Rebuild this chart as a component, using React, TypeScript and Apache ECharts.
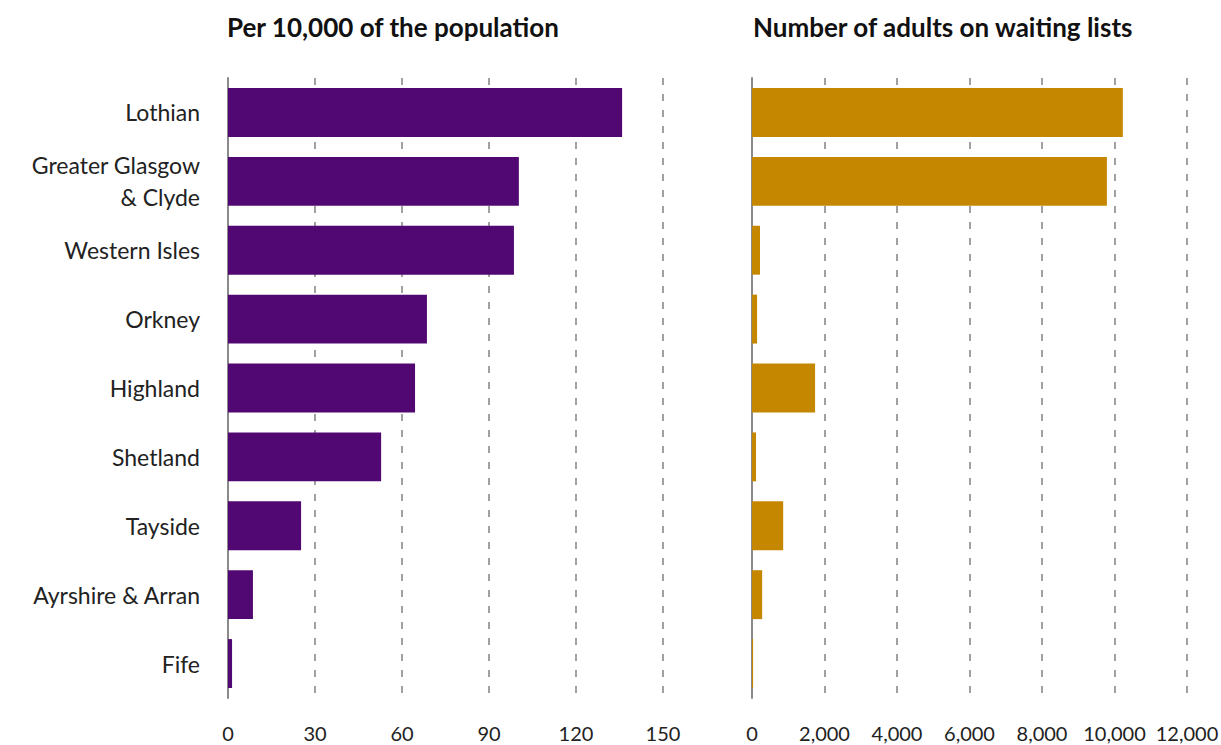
import React, { useEffect, useRef } from "react";
import * as echarts from "echarts";

const categories = [
  "Lothian",
  "Greater Glasgow\n& Clyde",
  "Western Isles",
  "Orkney",
  "Highland",
  "Shetland",
  "Tayside",
  "Ayrshire & Arran",
  "Fife",
];
const perPopulation = [135.9, 100.3, 98.6, 68.6, 64.5, 52.8, 25.2, 8.6, 1.4];
const adultsWaiting = [10230, 9790, 220, 140, 1740, 110, 860, 280, 30];
const leftTitle = "Per 10,000 of the population";
const rightTitle = "Number of adults on waiting lists";

const FONT = "Lato";

export default function App() {
  const ref = useRef<HTMLDivElement>(null);
  useEffect(() => {
    document.body.style.margin = "0";
    const chart = echarts.init(ref.current!, undefined, { renderer: "svg" });
    const splitLine = {
      show: true,
      lineStyle: { color: "#8a8a8a", width: 1.6, type: [7, 9] as any },
    };
    const axisLine = { show: true, lineStyle: { color: "#8a8a8a", width: 2 } };
    const xLabel = { color: "#222", fontSize: 20, fontFamily: FONT, margin: 25 };
    const titleStyle = { fontFamily: FONT, fontWeight: "bold", fontSize: 26, color: "#111" };
    chart.setOption({
      animation: false,
      title: [
        { text: leftTitle, left: 222, top: 9, textStyle: titleStyle },
        { text: rightTitle, left: 748, top: 9, textStyle: titleStyle },
      ],
      grid: [
        { left: 228, width: 435, top: 78, height: 620, containLabel: false, outerBoundsMode: "none" },
        { left: 752, width: 435, top: 78, height: 620, containLabel: false, outerBoundsMode: "none" },
      ],
      xAxis: [
        {
          gridIndex: 0,
          type: "value",
          min: 0,
          max: 150,
          interval: 30,
          axisLine: { show: false },
          axisTick: { show: false },
          splitLine,
          axisLabel: xLabel,
        },
        {
          gridIndex: 1,
          type: "value",
          min: 0,
          max: 12000,
          interval: 2000,
          axisLine: { show: false },
          axisTick: { show: false },
          splitLine,
          axisLabel: {
            ...xLabel,
            formatter: (v: number) => v.toLocaleString("en-GB"),
          },
        },
      ],
      yAxis: [
        {
          gridIndex: 0,
          type: "category",
          data: categories,
          inverse: true,
          axisLine,
          axisTick: { show: false },
          axisLabel: {
            color: "#222",
            fontSize: 23,
            fontFamily: FONT,
            margin: 28,
            lineHeight: 32,
            align: "right",
          },
        },
        {
          gridIndex: 1,
          type: "category",
          data: categories,
          inverse: true,
          axisLine,
          axisTick: { show: false },
          axisLabel: { show: false },
        },
      ],
      series: [
        {
          type: "bar",
          xAxisIndex: 0,
          yAxisIndex: 0,
          data: perPopulation,
          barWidth: "71%",
          itemStyle: { color: "#520872" },
          z: 3,
        },
        {
          type: "bar",
          xAxisIndex: 1,
          yAxisIndex: 1,
          data: adultsWaiting,
          barWidth: "71%",
          itemStyle: { color: "#C68700" },
          z: 3,
        },
      ],
    });
    return () => chart.dispose();
  }, []);
  return <div ref={ref} style={{ width: 1221, height: 745 }} />;
}
